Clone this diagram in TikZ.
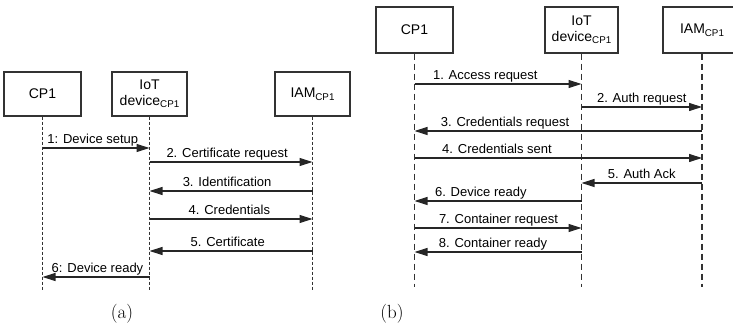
\documentclass[tikz,border=0pt]{standalone}
\usepackage{fontspec}
\newfontfamily\diagfont{Liberation Sans}
\usetikzlibrary{arrows.meta}
% lowered small subscript for actor names
\newcommand\actsub[1]{\raisebox{-2.6pt}{\fontsize{9.8}{10}\selectfont #1}}
\begin{document}
\begin{tikzpicture}[x=1pt,y=-1pt,
  actor/.style={draw=black!80, line width=1.1pt, fill=white, minimum height=44pt,
    inner sep=0pt, align=center, font=\diagfont\fontsize{14}{15.5}\selectfont},
  lifeA/.style={draw=black!80, line width=1.1pt, dash pattern=on 3pt off 2pt},
  lifeB/.style={draw=black!80, line width=1.1pt, dash pattern=on 6pt off 4pt},
  msg/.style={draw=black!85, line width=1.1pt, -{Triangle[length=13pt,width=8pt]}},
  lbl/.style={font=\diagfont\fontsize{13}{14}\selectfont, anchor=base,
    yshift=4.5pt, inner sep=0pt},
  subcap/.style={font=\fontsize{19}{22}\selectfont, inner sep=0pt}]
\useasboundingbox (0,0) rectangle (733,328);
\clip (0,0) rectangle (733,328);

% ---------------- (a) ----------------
\node[actor, minimum width=77pt] (cpa) at (42.5,94) {CP1};
\node[actor, minimum width=75pt] (ioa) at (149.5,94) {IoT\\device\actsub{CP1}};
\node[actor, minimum width=75pt] (iama) at (312.5,94) {IAM\actsub{CP1}};
\foreach \n in {cpa,ioa,iama}
  \draw[lifeA] (\n.south) -- (\n |- 0,290);

\draw[msg] (cpa |- 0,148) -- node[lbl, pos=0.47] {1: Device setup} (ioa |- 0,148);
\draw[msg] (ioa |- 0,162) -- node[lbl, pos=0.476] {2. Certificate request} (iama |- 0,162);
\draw[msg] (iama |- 0,191) -- node[lbl, pos=0.524] {3. Identification} (ioa |- 0,191);
\draw[msg] (ioa |- 0,219) -- node[lbl, pos=0.49] {4. Credentials} (iama |- 0,219);
\draw[msg] (iama |- 0,251) -- node[lbl, pos=0.52] {5. Certificate} (ioa |- 0,251);
\draw[msg] (ioa |- 0,277) -- node[lbl, pos=0.486] {6: Device ready} (cpa |- 0,277);

\node[subcap] (capa) at (122,314) {(a)};

% ---------------- (b) ----------------
\node[actor, minimum width=77pt, minimum height=46pt] (cpb) at (414.5,30) {CP1};
\node[actor, minimum width=73pt, minimum height=46pt] (iob) at (581.5,30) {IoT\\device\actsub{CP1}};
\node[actor, minimum width=78pt, minimum height=46pt] (iamb) at (702,30) {IAM\actsub{CP1}};
\foreach \n in {cpb,iob,iamb}
  \draw[lifeB] (\n.south) -- (\n |- 0,287);

\draw[msg] (cpb |- 0,84) -- node[lbl, pos=0.424] {1. Access request} (iob |- 0,84);
\draw[msg] (iob |- 0,107) -- node[lbl, pos=0.5] {2. Auth request} (iamb |- 0,107);
\draw[msg] (iamb |- 0,131) -- node[lbl, pos=0.685] {3. Credentials request} (cpb |- 0,131);
\draw[msg] (cpb |- 0,158) -- node[lbl, pos=0.287] {4. Credentials sent} (iamb |- 0,158);
\draw[msg] (iamb |- 0,183) -- node[lbl, pos=0.5] {5. Auth Ack} (iob |- 0,183);
\draw[msg] (iob |- 0,201) -- node[lbl, pos=0.603] {6. Device ready} (cpb |- 0,201);
\draw[msg] (cpb |- 0,228) -- node[lbl, pos=0.503] {7. Container request} (iob |- 0,228);
\draw[msg] (iob |- 0,252) -- node[lbl, pos=0.53] {8. Container ready} (cpb |- 0,252);

\node[subcap] (capb) at (392,314) {(b)};
\end{tikzpicture}
\end{document}
